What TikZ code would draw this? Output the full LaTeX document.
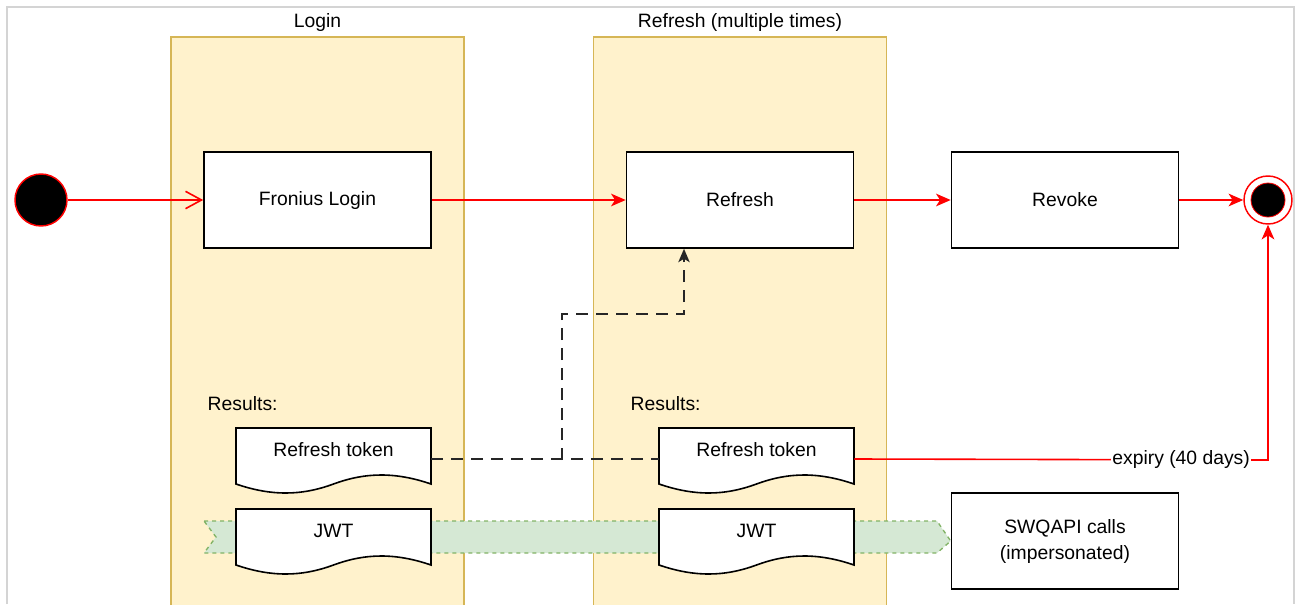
\documentclass[tikz,border=0pt]{standalone}
\usepackage{fontspec}
\setmainfont{Liberation Sans}
\usetikzlibrary{arrows.meta}

\definecolor{lanefill}{HTML}{FFF2CC}
\definecolor{laneline}{HTML}{D6B656}
\definecolor{bandfill}{HTML}{D5E8D4}
\definecolor{bandline}{HTML}{82B366}
\definecolor{framegray}{HTML}{D4D4D4}

\tikzset{
    every node/.style={font=\fontsize{14.5}{19.5}\selectfont},
    lane/.style={draw=laneline, fill=lanefill, line width=1pt,
        minimum width=219.75pt, minimum height=431.25pt, inner sep=0pt},
    act/.style={draw, fill=white, line width=1.2pt,
        minimum width=170.25pt, minimum height=72pt, inner sep=0pt, align=center},
    doctext/.style={minimum width=146.25pt, minimum height=46.5pt, inner sep=0pt,
        text height=11pt, text depth=14.1pt},
    docline/.style={draw, fill=white, line width=1.2pt},
    flow/.style={draw=red, line width=1.2pt, -{Stealth[length=11pt, width=9.5pt, inset=3pt]}},
    dashline/.style={draw=black!85, line width=1.2pt, dash pattern=on 9pt off 6pt}
}

\begin{document}
\begin{tikzpicture}[x=0.75pt, y=-0.75pt]
    \useasboundingbox (0,0) rectangle (1297,604);
    \draw[framegray, line width=1.5pt] (7,604) -- (7,7) -- (1294,7) -- (1294,604);

    % swimlanes
    \node[lane] (laneA) at (317.5,324.5) {};
    \node[lane] (laneB) at (740,324.5) {};
    \node (ttlA) at (317.5,22) {Login};
    \node (ttlB) at (740,22) {Refresh (multiple times)};

    % token flow into the api calls
    \node[act] (swq) at (1065,541) {SWQAPI calls\\(impersonated)};
    \draw[draw=bandline, fill=bandfill, line width=1pt, dashed]
        (204,521) -- (937,521) -- (swq.west) -- (937,553) -- (204,553) -- (216,537) -- cycle;

    % main line
    \node[circle, fill=black, draw=red, line width=1.1pt, minimum size=39pt, inner sep=0pt] (start) at (41,200) {};
    \node[act] (login) at (317.5,200) {Fronius Login};
    \node[act] (refresh) at (740,200) {Refresh};
    \node[act] (revoke) at (1065,200) {Revoke};
    \node[circle, draw=red, fill=white, line width=1.1pt, minimum size=36pt, inner sep=0pt] (stop) at (1268,200) {};
    \node[circle, fill=black, draw=red, line width=0.6pt, minimum size=25.5pt, inner sep=0pt] (stopdot) at (stop) {};

    \draw[draw=red, line width=1.2pt, -{Straight Barb[length=12pt, width=13pt]}] (start) -- (login);
    \draw[flow] (login) -- (refresh);
    \draw[flow] (refresh) -- (revoke);
    \draw[flow] (revoke.east) -- (stop.west);

    % results of each step
    \node[anchor=west] (resA) at (203,404) {Results:};
    \node[anchor=west] (resB) at (626,404) {Results:};
    \foreach \x/\y in {236/428, 236/509, 659/428, 659/509}
        \draw[docline] (\x,\y) -- ++(195,0) -- ++(0,56)
            .. controls ({\x+160},{\y+44}) and ({\x+130},{\y+44}) .. ({\x+97.5},{\y+56})
            .. controls ({\x+65},{\y+68}) and ({\x+35},{\y+68}) .. (\x,{\y+56}) -- cycle;
    \node[doctext] (tokA) at (333.5,459) {Refresh token};
    \node[doctext] (jwtA) at (333.5,540) {JWT};
    \node[doctext] (tokB) at (756.5,459) {Refresh token};
    \node[doctext] (jwtB) at (756.5,540) {JWT};

    % refresh token is used for the next refresh
    \coordinate (jn) at (562,460);
    \coordinate (turn) at (684,314);
    \draw[dashline] (tokA.east) -- (tokB.west);
    \draw[dashline, -{Stealth[length=10pt, width=8.5pt, inset=2.5pt]}] (jn) |- (turn) -- (turn |- refresh.south);

    % expiry
    \draw[flow] (tokB.east) -- node[fill=white, inner sep=1pt, pos=0.79] (expiry) {expiry (40 days)} (1268,460) -- (stop.south);
\end{tikzpicture}
\end{document}
